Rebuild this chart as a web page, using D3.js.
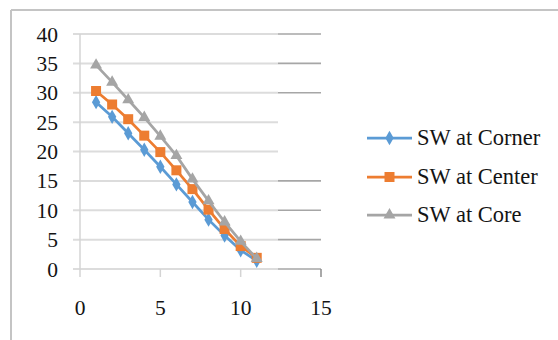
<!DOCTYPE html>
<html>
<head>
<meta charset="utf-8">
<script src="https://cdn.jsdelivr.net/npm/d3@7"></script>
<style>
  html, body { margin: 0; padding: 0; background: #fff; }
  svg { display: block; }
  svg text { font-family: "Liberation Serif", "Times New Roman", serif; fill: #141414; }
</style>
</head>
<body>
<svg id="chart" width="558" height="340"></svg>
<script>
// Step positions along the horizontal axis
const steps = [1, 2, 3, 4, 5, 6, 7, 8, 9, 10, 11];

// SW readings per location
const swCorner = [28.4, 25.9, 23.1, 20.3, 17.4, 14.4, 11.4, 8.4, 5.7, 3.2, 1.4];
const swCenter = [30.3, 28.0, 25.5, 22.7, 19.9, 16.8, 13.6, 10.1, 6.8, 3.9, 1.9];
const swCore   = [34.7, 31.8, 28.8, 25.8, 22.6, 19.3, 15.3, 11.6, 8.0, 4.7, 1.8];

const seriesNames = ["SW at Corner", "SW at Center", "SW at Core"];
const xTicks = [0, 5, 10, 15];
const yTicks = [0, 5, 10, 15, 20, 25, 30, 35, 40];

const series = [
  { name: seriesNames[0], values: swCorner, color: "#5b9bd5", symbol: d3.symbolDiamond, size: 60 },
  { name: seriesNames[1], values: swCenter, color: "#ed7d31", symbol: d3.symbolSquare, size: 100 },
  { name: seriesNames[2], values: swCore,   color: "#a5a5a5", symbol: d3.symbolTriangle, size: 62 }
];

const svg = d3.select("#chart");

// chart frame
svg.append("line").attr("x1", 11).attr("x2", 558).attr("y1", 10).attr("y2", 10)
  .attr("stroke", "#c4c4c4").attr("stroke-width", 2);
svg.append("line").attr("x1", 11).attr("x2", 11).attr("y1", 10).attr("y2", 340)
  .attr("stroke", "#c4c4c4").attr("stroke-width", 2);

const x = d3.scaleLinear().domain([0, 15]).range([80, 321]);
const y = d3.scaleLinear().domain([0, 40]).range([269, 34]);

// horizontal gridlines: pale over the plot, darker stretch on the right
const g = svg.append("g");
g.selectAll("line.grid").data(yTicks).join("line")
  .attr("class", "grid")
  .attr("x1", 73).attr("x2", 278)
  .attr("y1", d => y(d)).attr("y2", d => y(d))
  .attr("stroke", "#dcdcdc").attr("stroke-width", 2);
g.selectAll("line.gridR").data(yTicks.filter(d => d !== 20 && d !== 25)).join("line")
  .attr("class", "gridR")
  .attr("x1", 278).attr("x2", 321)
  .attr("y1", d => y(d)).attr("y2", d => y(d))
  .attr("stroke", "#a6a6a6").attr("stroke-width", 1.6);

// vertical axis line
svg.append("line").attr("x1", x(0)).attr("x2", x(0)).attr("y1", y(40)).attr("y2", 277)
  .attr("stroke", "#d4d4d4").attr("stroke-width", 1.5);

// x ticks
svg.selectAll("line.xt").data(xTicks.slice(1)).join("line")
  .attr("class", "xt")
  .attr("x1", d => x(d)).attr("x2", d => x(d))
  .attr("y1", y(0)).attr("y2", 277)
  .attr("stroke", d => d === 15 ? "#8c8c8c" : "#d4d4d4").attr("stroke-width", 1.5);

// tick labels
svg.selectAll("text.yl").data(yTicks).join("text")
  .attr("class", "yl")
  .attr("x", 58).attr("y", d => y(d))
  .attr("dy", "0.35em")
  .attr("text-anchor", "end")
  .attr("font-size", 21.5)
  .text(d => d);

svg.selectAll("text.xl").data(xTicks).join("text")
  .attr("class", "xl")
  .attr("x", d => x(d)).attr("y", 307)
  .attr("dy", "0.35em")
  .attr("text-anchor", "middle")
  .attr("font-size", 21.5)
  .text(d => d);

// series lines and markers
const line = d3.line().x((d, i) => x(steps[i])).y(d => y(d));
series.forEach(s => {
  svg.append("path").datum(s.values)
    .attr("d", line)
    .attr("fill", "none")
    .attr("stroke", s.color)
    .attr("stroke-width", 2.75);
  svg.append("g").selectAll("path").data(s.values).join("path")
    .attr("transform", (d, i) => `translate(${x(steps[i])},${y(d)})`)
    .attr("d", d3.symbol().type(s.symbol).size(s.size))
    .attr("fill", s.color);
});

// legend
const legend = svg.append("g");
const legendY = [138, 177, 215];
series.forEach((s, i) => {
  const ly = legendY[i];
  legend.append("line").attr("x1", 367).attr("x2", 412).attr("y1", ly).attr("y2", ly)
    .attr("stroke", s.color).attr("stroke-width", 2.75);
  legend.append("path")
    .attr("transform", `translate(389.5,${ly})`)
    .attr("d", d3.symbol().type(s.symbol).size(s.size))
    .attr("fill", s.color);
  legend.append("text")
    .attr("x", 417).attr("y", ly)
    .attr("dy", "0.33em")
    .attr("font-size", 22.5)
    .text(s.name);
});
</script>
</body>
</html>
